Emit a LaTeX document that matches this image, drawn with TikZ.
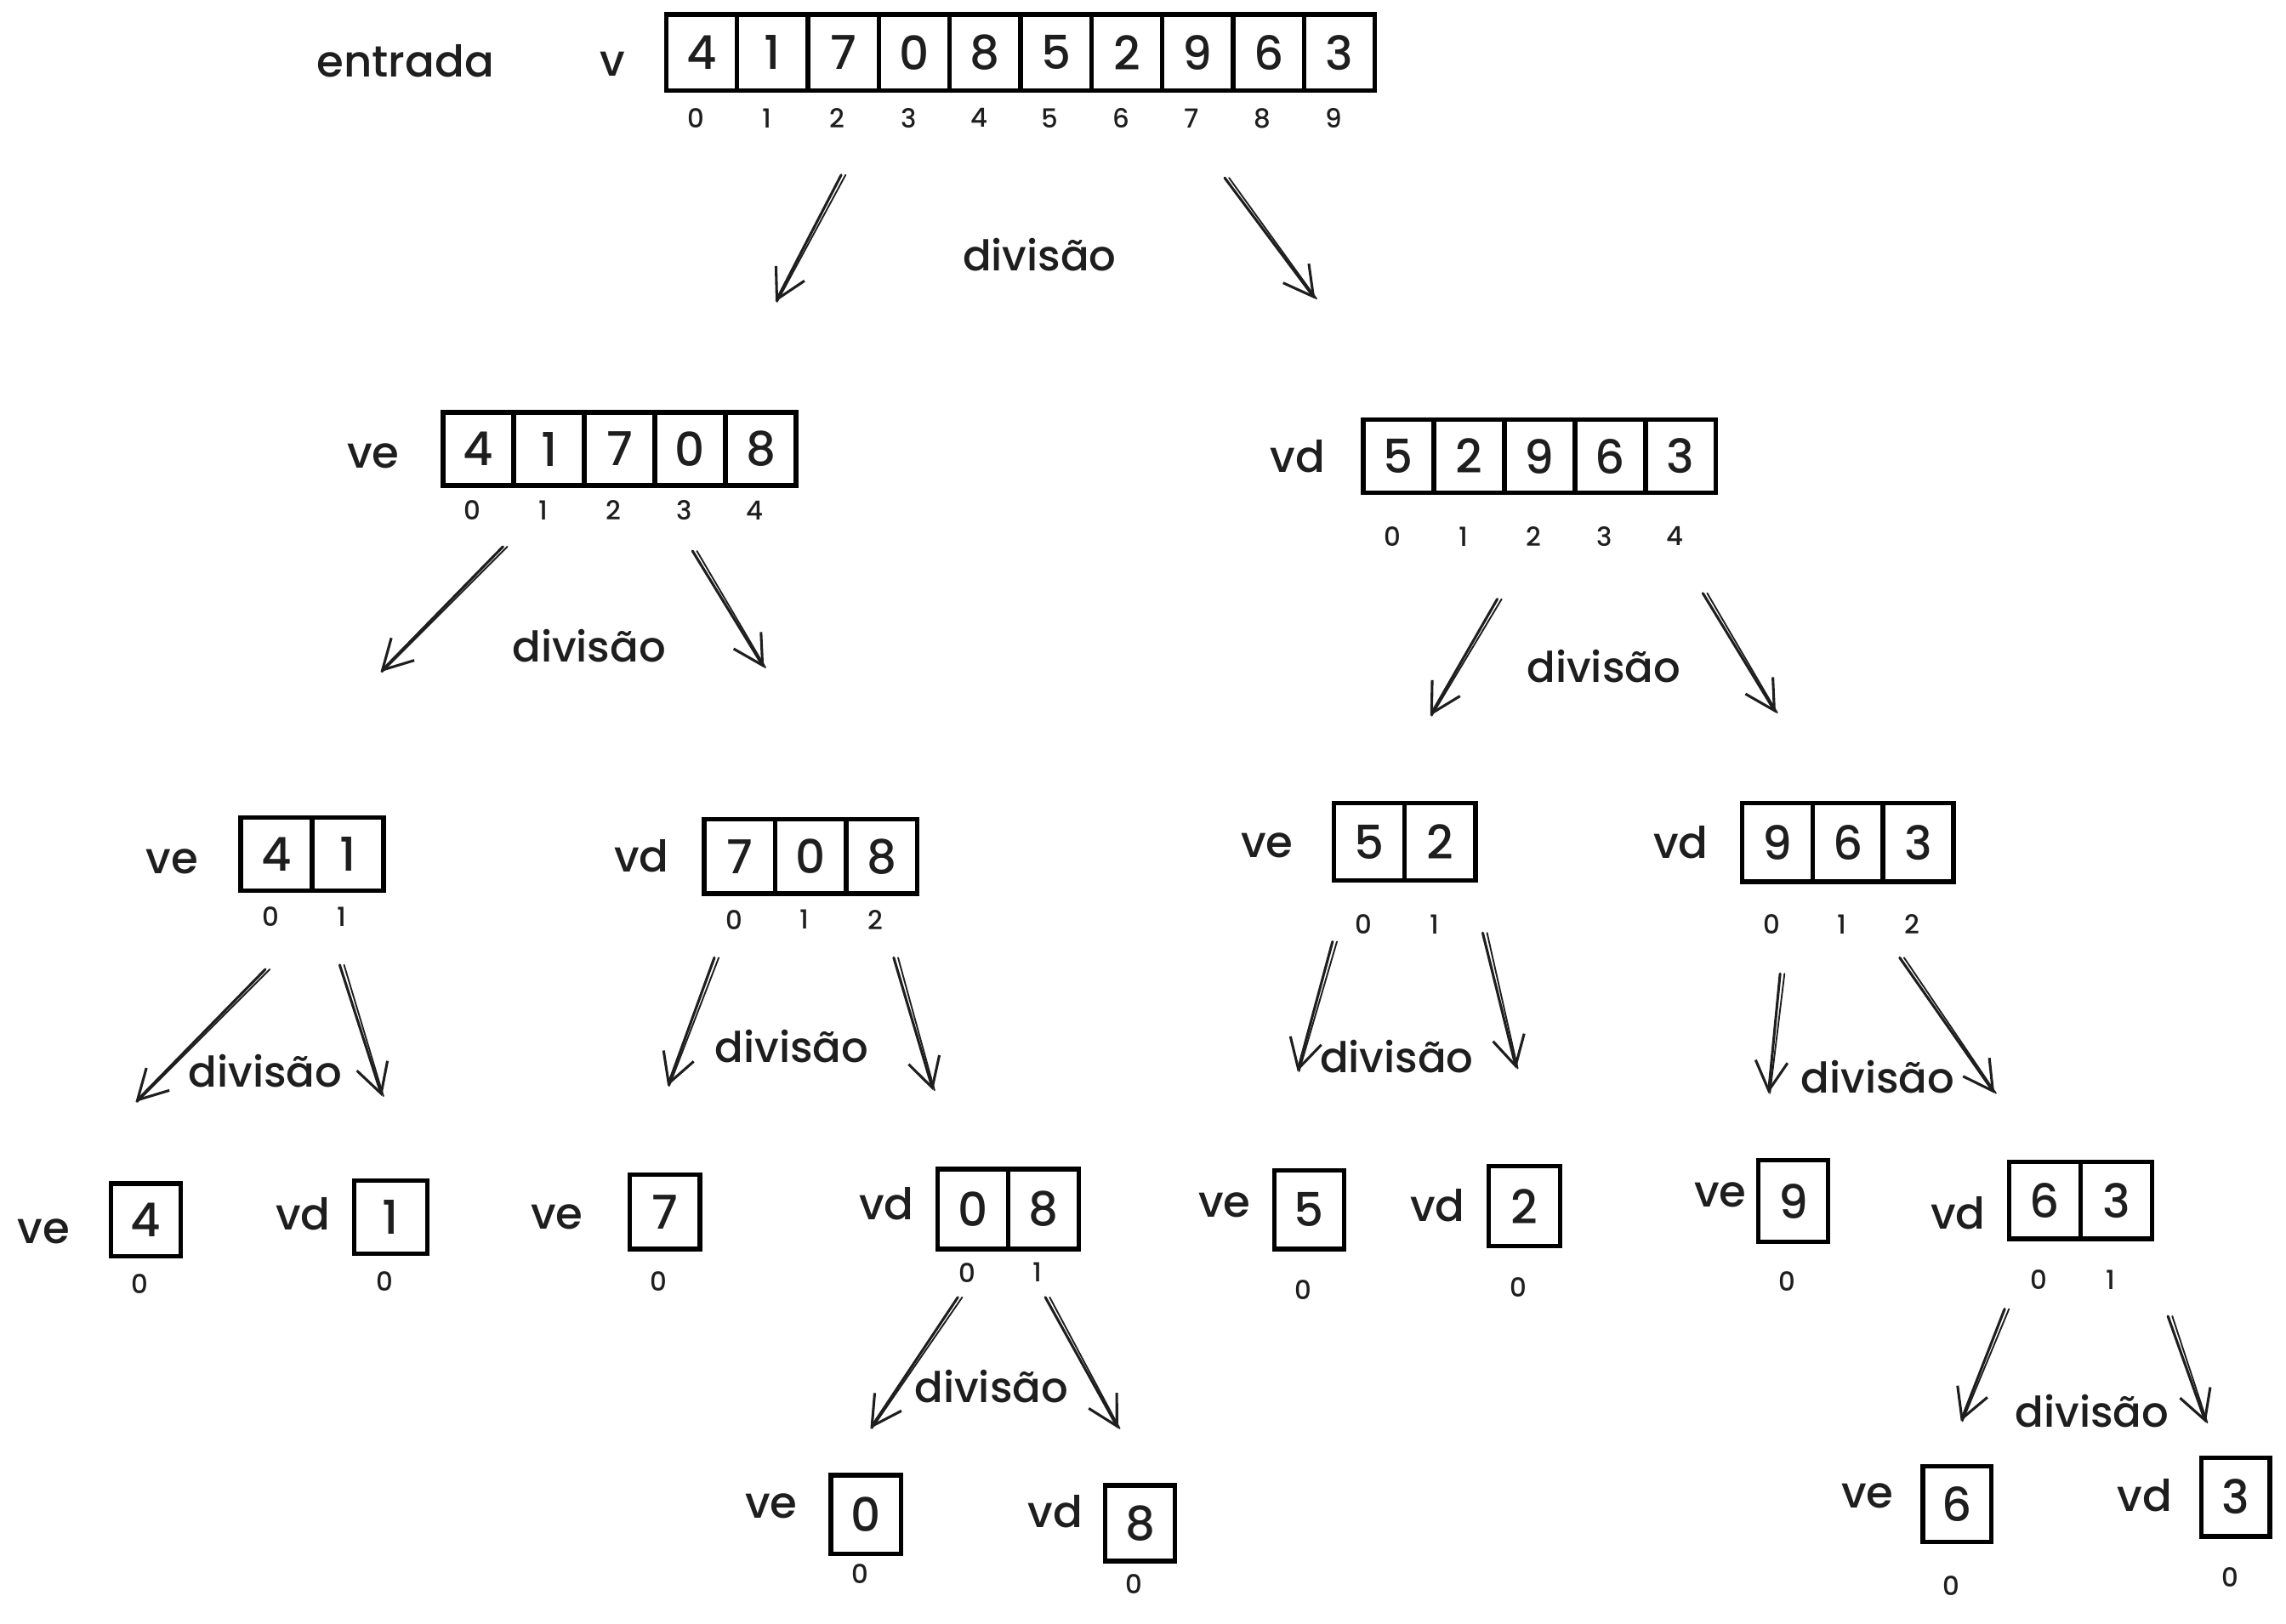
\documentclass[tikz,border=0pt]{standalone}
\usepackage{fontspec}
\setmainfont{Poppins}[UprightFont=* Medium]
\usetikzlibrary{arrows.meta}
\definecolor{ink}{HTML}{1E1E1E}
\tikzset{
  cell/.style={draw=black, line width=3.2pt, inner sep=0pt, outer sep=0pt,
    font=\fontsize{32}{32}\selectfont, text=ink},
  idx/.style={font=\fontsize{18}{18}\selectfont, text=ink, inner sep=0pt},
  lbl/.style={font=\fontsize{30}{30}\selectfont, text=ink, inner sep=0pt},
  divlbl/.style={font=\fontsize{29}{29}\selectfont, text=ink, inner sep=0pt},
  split/.style={draw=ink, line width=1.8pt, line cap=round,
    -{Straight Barb[length=20pt,width=22pt,line width=1.8pt]}},
  splitb/.style={draw=ink, line width=1.1pt, line cap=round},
}
% name, left, top, cell width, height, values, index y
\newcommand\drawarr[7]{%
  \foreach \val [count=\i from 0] in {#6} {%
    \node[cell, minimum width=#4pt, minimum height=#5pt, anchor=north west]
      (#1-\i) at ({#2+\i*#4},{#3}) {\val};
    \node[idx] (#1-i\i) at ({#2+(\i+0.5)*#4-4},{#7}) {\i};
  }%
}
\begin{document}
\begin{tikzpicture}[x=1pt,y=-1pt]
\fill[white] (0,0) rectangle (1568,1114);
\useasboundingbox (0,0) rectangle (1568,1114);

% arrays
\drawarr{v}{457}{10}{48.6}{52}{4,1,7,0,8,5,2,9,6,3}{81}
\drawarr{ve1}{304}{283}{48.4}{50}{4,1,7,0,8}{350}
\drawarr{vd1}{935}{288}{48.4}{50}{5,2,9,6,3}{368}
\drawarr{ve2a}{165}{561}{49}{50}{4,1}{629}
\drawarr{vd2a}{483}{562}{48.7}{51}{7,0,8}{631}
\drawarr{ve2b}{915}{551}{48.5}{53}{5,2}{634}
\drawarr{vd2b}{1195}{551}{48.3}{54}{9,6,3}{634}
\drawarr{ve3a}{76}{812}{48}{50}{4}{881}
\drawarr{vd3a}{243}{810}{50}{50}{1}{879}
\drawarr{ve3b}{432}{806}{48}{51}{7}{879}
\drawarr{vd3b}{643}{802}{48.5}{55}{0,8}{873}
\drawarr{ve3c}{874}{803}{48}{54}{5}{885}
\drawarr{vd3c}{1021}{800}{49}{55}{2}{883}
\drawarr{ve3d}{1206}{796}{48}{56}{9}{879}
\drawarr{vd3d}{1378}{797}{49}{53}{6,3}{878}
\drawarr{ve4a}{570}{1012}{48}{54}{0}{1080}
\drawarr{vd4a}{758}{1019}{48}{52}{8}{1087}
\drawarr{ve4b}{1319}{1006}{47}{52}{6}{1088}
\drawarr{vd4b}{1510}{1000}{47}{54}{3}{1082}

% labels
\node[lbl] (entrada) at (278,42) {entrada};
\node[lbl] (lv) at (420,44) {v};
\foreach \n/\t/\x/\y in {
  l1/ve/256/313, l2/vd/890/313,
  l3/ve/118/591, l4/vd/440/587, l5/ve/869/580, l6/vd/1153/578,
  l7/ve/30/845, l8/vd/208/833, l9/ve/382/835, l10/vd/608/826,
  l11/ve/840/827, l12/vd/986/827, l13/ve/1180/820, l14/vd/1343/832,
  l15/ve/529/1033, l16/vd/724/1037, l17/ve/1281/1026, l18/vd/1471/1026}
  {\node[lbl] (\n) at (\x,\y) {\t};}

% division labels
\foreach \n/\x/\y in {d1/713/175, d2/404/443, d3/1100/457, d4/182/735,
  d5/543/718, d6/958/725, d7/1288/739, d8/680/951, d9/1435/968}
  {\node[divlbl] (\n) at (\x,\y) {divisão};}

% arrows (with a second, sketchy stroke)
\foreach \n/\sx/\sy/\ex/\ey in {
  1/577/120/532/207, 2/840/122/902/205,
  3/345/375/261/461, 4/475/378/524/458,
  5/1027/411/981/491, 6/1168/407/1218/489,
  7/182/665/93/756, 8/233/662/262/752,
  9/490/657/458/745, 10/613/657/640/748,
  11/914/646/890/735, 12/1017/640/1040/733,
  13/1221/668/1213/750, 14/1303/657/1368/750,
  15/657/890/597/980, 16/717/890/767/980,
  17/1375/898/1345/975, 18/1487/903/1513/976}
  {\coordinate (s\n) at (\sx,\sy);
   \coordinate (e\n) at (\ex,\ey);
   \draw[split] (s\n) -- (e\n);
   \draw[splitb] ([xshift=3pt]s\n) -- ([xshift=1pt]e\n);}
\end{tikzpicture}
\end{document}
